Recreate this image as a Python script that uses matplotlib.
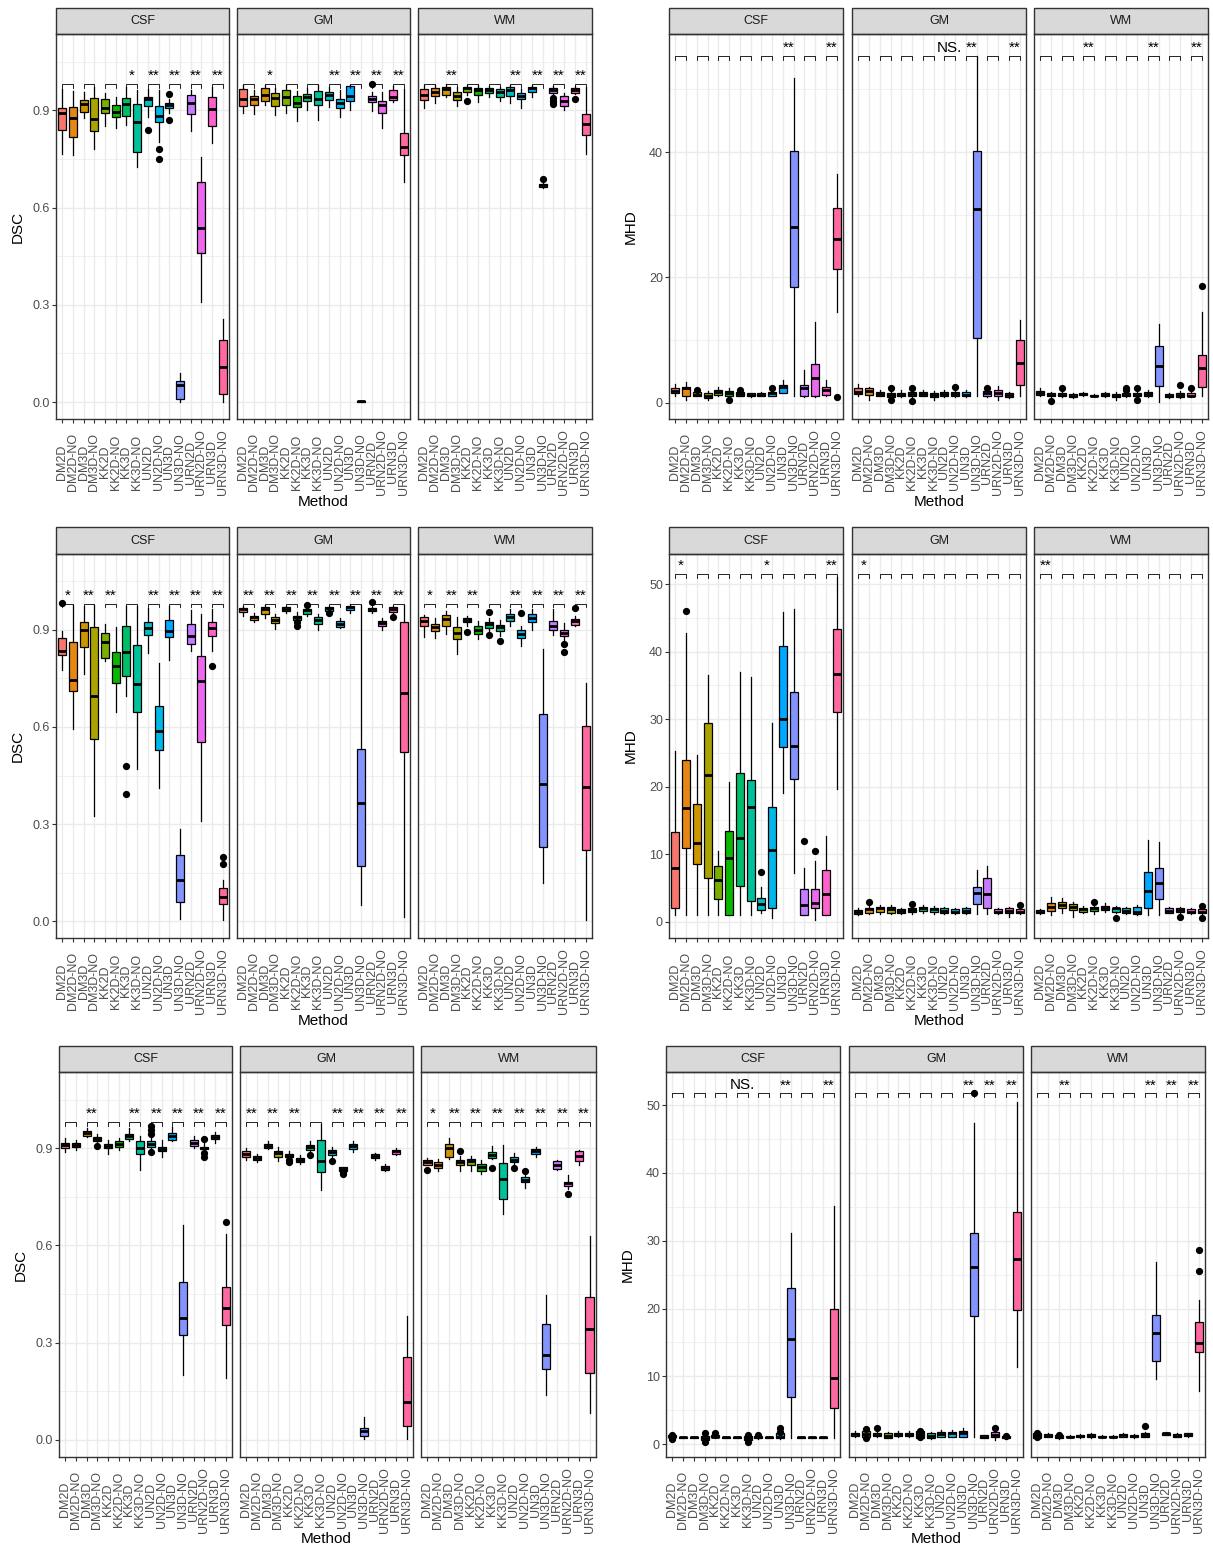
import matplotlib
matplotlib.use('Agg')
import matplotlib.pyplot as plt
from matplotlib.patches import Rectangle

plt.rcParams['font.family'] = ['Liberation Sans', 'DejaVu Sans']

methods = ['DM2D', 'DM2D-NO', 'DM3D', 'DM3D-NO', 'KK2D', 'KK2D-NO', 'KK3D', 'KK3D-NO',
           'UN2D', 'UN2D-NO', 'UN3D', 'UN3D-NO', 'URN2D', 'URN2D-NO', 'URN3D', 'URN3D-NO']
tissues = ['CSF', 'GM', 'WM']

# box stats per method: (lower whisker, q1, median, q3, upper whisker)
# ---- row 1, DSC
dsc1_csf = [(0.766, 0.838, 0.890, 0.908, 0.964), (0.763, 0.817, 0.877, 0.910, 0.960),
            (0.877, 0.894, 0.918, 0.931, 0.955), (0.779, 0.835, 0.874, 0.939, 0.970),
            (0.851, 0.890, 0.908, 0.935, 0.953), (0.846, 0.879, 0.895, 0.916, 0.940),
            (0.854, 0.882, 0.918, 0.939, 0.970), (0.725, 0.772, 0.863, 0.920, 0.962),
            (0.880, 0.912, 0.936, 0.941, 0.964), (0.802, 0.864, 0.882, 0.914, 0.962),
            (0.890, 0.907, 0.915, 0.921, 0.936), (0.001, 0.010, 0.052, 0.065, 0.090),
            (0.836, 0.888, 0.923, 0.946, 0.962), (0.309, 0.461, 0.538, 0.679, 0.756),
            (0.800, 0.851, 0.905, 0.941, 0.970), (0.001, 0.025, 0.109, 0.193, 0.255)]
dsc1_csf_out = {'UN2D': [0.84], 'UN2D-NO': [0.78, 0.75], 'UN3D': [0.951, 0.869]}
dsc1_csf_sig = ['', '', '', '*', '**', '**', '**', '**']

dsc1_gm = [(0.892, 0.913, 0.934, 0.964, 0.977), (0.888, 0.917, 0.933, 0.945, 0.962),
           (0.917, 0.929, 0.948, 0.967, 0.977), (0.885, 0.913, 0.938, 0.953, 0.967),
           (0.890, 0.917, 0.941, 0.962, 0.977), (0.866, 0.910, 0.921, 0.945, 0.960),
           (0.900, 0.927, 0.941, 0.951, 0.967), (0.871, 0.917, 0.936, 0.959, 0.977),
           (0.910, 0.931, 0.946, 0.955, 0.970), (0.880, 0.908, 0.921, 0.934, 0.962),
           (0.902, 0.929, 0.943, 0.974, 0.977), (0.000, 0.001, 0.002, 0.003, 0.004),
           (0.896, 0.925, 0.935, 0.945, 0.955), (0.846, 0.890, 0.917, 0.929, 0.955),
           (0.925, 0.931, 0.941, 0.962, 0.976), (0.679, 0.761, 0.787, 0.830, 0.965)]
dsc1_gm_out = {'URN2D': [0.98]}
dsc1_gm_sig = ['', '*', '', '', '**', '**', '**', '**']

dsc1_wm = [(0.908, 0.931, 0.948, 0.964, 0.977), (0.921, 0.944, 0.955, 0.967, 0.977),
           (0.941, 0.948, 0.964, 0.972, 0.980), (0.912, 0.931, 0.944, 0.957, 0.970),
           (0.946, 0.957, 0.968, 0.972, 0.977), (0.926, 0.948, 0.963, 0.969, 0.977),
           (0.941, 0.952, 0.962, 0.969, 0.976), (0.929, 0.941, 0.955, 0.964, 0.972),
           (0.923, 0.943, 0.962, 0.972, 0.977), (0.908, 0.933, 0.945, 0.953, 0.964),
           (0.941, 0.957, 0.967, 0.972, 0.977), (0.659, 0.662, 0.668, 0.674, 0.676),
           (0.949, 0.953, 0.962, 0.968, 0.974), (0.900, 0.914, 0.929, 0.943, 0.953),
           (0.949, 0.953, 0.962, 0.967, 0.974), (0.764, 0.823, 0.859, 0.887, 0.970)]
dsc1_wm_out = {'KK2D': [0.929], 'UN3D-NO': [0.689], 'URN2D': [0.939, 0.929, 0.918], 'URN3D': [0.935]}
dsc1_wm_sig = ['', '**', '', '', '**', '**', '**', '**']

# ---- row 1, MHD
mhd1_csf = [(1.0, 1.5, 1.9, 2.3, 3.0), (0.4, 1.0, 2.3, 2.55, 3.35), (1.0, 1.1, 1.3, 1.7, 1.9),
            (0.5, 0.7, 1.05, 1.6, 1.9), (1.0, 1.2, 1.65, 2.0, 2.55), (1.0, 1.05, 1.6, 1.9, 2.3),
            (1.0, 1.05, 1.4, 1.75, 2.1), (0.85, 1.0, 1.2, 1.5, 1.6), (1.0, 1.0, 1.3, 1.5, 1.75),
            (1.0, 1.05, 1.5, 1.75, 2.1), (1.5, 1.6, 2.45, 2.8, 3.6), (1.0, 18.4, 28.0, 40.2, 51.8),
            (0.9, 1.0, 2.3, 2.8, 5.2), (0.9, 1.0, 3.9, 6.2, 12.9), (1.0, 1.2, 2.1, 2.55, 3.6),
            (14.5, 21.4, 26.1, 31.1, 36.5)]
mhd1_csf_out = {'DM3D': [2.1], 'KK2D-NO': [0.43], 'KK3D': [2.1], 'UN2D-NO': [2.4], 'URN3D-NO': [0.85]}
mhd1_csf_sig = ['', '', '', '', '', '**', '', '**']

mhd1_gm = [(1.05, 1.4, 1.75, 2.3, 3.0), (0.4, 1.2, 1.9, 2.3, 2.55), (1.0, 1.05, 1.4, 1.75, 2.0),
           (0.7, 0.85, 1.2, 1.5, 1.75), (0.9, 1.0, 1.2, 1.6, 2.0), (0.9, 1.0, 1.4, 1.75, 2.0),
           (1.0, 1.05, 1.4, 1.75, 2.0), (0.4, 0.85, 1.2, 1.5, 1.9), (0.9, 1.0, 1.4, 1.75, 2.0),
           (0.9, 1.0, 1.4, 1.75, 2.0), (0.9, 1.0, 1.2, 1.75, 2.1), (1.0, 10.3, 30.9, 40.2, 55.3),
           (0.9, 1.05, 1.5, 1.9, 2.1), (0.4, 1.05, 1.5, 2.0, 2.65), (0.7, 0.85, 1.2, 1.6, 1.75),
           (1.0, 2.8, 6.4, 10.0, 13.2)]
mhd1_gm_out = {'DM3D-NO': [2.3, 0.45], 'KK2D-NO': [2.4, 0.27], 'UN2D-NO': [2.55], 'URN2D': [2.4]}
mhd1_gm_sig = ['', '', '', '', 'NS.', '**', '', '**']

mhd1_wm = [(1.0, 1.2, 1.6, 1.9, 2.3), (0.7, 1.0, 1.2, 1.5, 1.75), (0.9, 1.0, 1.2, 1.6, 1.9),
           (0.7, 0.85, 1.1, 1.4, 1.6), (1.1, 1.2, 1.45, 1.6, 1.75), (0.85, 1.0, 1.1, 1.2, 1.4),
           (0.9, 1.05, 1.3, 1.5, 1.75), (0.5, 0.85, 1.1, 1.4, 1.75), (0.85, 1.0, 1.2, 1.6, 1.9),
           (0.7, 1.0, 1.2, 1.5, 1.75), (0.9, 1.05, 1.4, 1.75, 2.1), (0.15, 2.65, 5.85, 9.0, 12.55),
           (0.7, 0.85, 1.1, 1.4, 1.6), (0.7, 0.85, 1.2, 1.5, 1.9), (0.85, 1.0, 1.1, 1.5, 1.75),
           (1.0, 2.45, 5.6, 7.6, 14.4)]
mhd1_wm_out = {'DM2D-NO': [0.27], 'DM3D': [2.3], 'UN2D': [2.3, 2.0], 'UN2D-NO': [2.3, 0.43],
               'URN2D-NO': [2.8], 'URN3D': [2.3], 'URN3D-NO': [18.6]}
mhd1_wm_sig = ['', '', '**', '', '', '**', '', '**']

# ---- row 2, DSC
dsc2_csf = [(0.774, 0.821, 0.835, 0.874, 0.895), (0.594, 0.712, 0.746, 0.862, 0.975),
            (0.764, 0.847, 0.900, 0.924, 0.972), (0.326, 0.564, 0.694, 0.907, 0.975),
            (0.802, 0.813, 0.861, 0.890, 0.918), (0.645, 0.735, 0.787, 0.832, 0.908),
            (0.694, 0.758, 0.832, 0.910, 0.972), (0.470, 0.646, 0.733, 0.852, 0.974),
            (0.828, 0.882, 0.905, 0.923, 0.967), (0.413, 0.528, 0.586, 0.663, 0.797),
            (0.807, 0.876, 0.897, 0.931, 0.972), (0.007, 0.060, 0.129, 0.206, 0.285),
            (0.833, 0.857, 0.879, 0.918, 0.960), (0.309, 0.554, 0.741, 0.818, 0.949),
            (0.835, 0.879, 0.905, 0.923, 0.964), (0.005, 0.055, 0.074, 0.104, 0.129)]
dsc2_csf_out = {'DM2D': [0.982], 'KK3D': [0.48, 0.394], 'URN3D': [0.787], 'URN3D-NO': [0.2, 0.177]}
dsc2_csf_sig = ['*', '**', '**', '', '**', '**', '**', '**']

dsc2_gm = [(0.941, 0.954, 0.962, 0.967, 0.974), (0.923, 0.929, 0.938, 0.943, 0.951),
           (0.936, 0.949, 0.962, 0.970, 0.977), (0.902, 0.919, 0.931, 0.938, 0.948),
           (0.951, 0.957, 0.964, 0.969, 0.974), (0.926, 0.931, 0.938, 0.943, 0.954),
           (0.941, 0.949, 0.959, 0.964, 0.970), (0.898, 0.918, 0.929, 0.939, 0.949),
           (0.955, 0.958, 0.966, 0.970, 0.974), (0.904, 0.908, 0.918, 0.925, 0.936),
           (0.951, 0.960, 0.969, 0.974, 0.980), (0.051, 0.170, 0.365, 0.533, 0.975),
           (0.950, 0.957, 0.962, 0.966, 0.970), (0.900, 0.912, 0.920, 0.928, 0.935),
           (0.950, 0.954, 0.964, 0.969, 0.974), (0.015, 0.523, 0.705, 0.924, 0.975)]
dsc2_gm_out = {'KK2D-NO': [0.923, 0.91], 'KK3D': [0.977], 'UN2D': [0.951], 'URN2D': [0.984], 'URN3D': [0.939]}
dsc2_gm_sig = ['**', '**', '**', '**', '**', '**', '**', '**']

dsc2_wm = [(0.877, 0.910, 0.926, 0.938, 0.946), (0.874, 0.895, 0.907, 0.918, 0.936),
           (0.885, 0.912, 0.933, 0.946, 0.957), (0.826, 0.871, 0.888, 0.908, 0.938),
           (0.912, 0.923, 0.931, 0.936, 0.943), (0.871, 0.885, 0.900, 0.910, 0.926),
           (0.897, 0.905, 0.918, 0.924, 0.936), (0.879, 0.895, 0.908, 0.915, 0.931),
           (0.910, 0.926, 0.938, 0.948, 0.962), (0.849, 0.874, 0.887, 0.900, 0.912),
           (0.900, 0.923, 0.936, 0.949, 0.962), (0.120, 0.229, 0.424, 0.640, 0.840),
           (0.882, 0.900, 0.912, 0.926, 0.964), (0.869, 0.879, 0.890, 0.900, 0.921),
           (0.910, 0.915, 0.926, 0.933, 0.941), (0.005, 0.219, 0.415, 0.604, 0.735)]
dsc2_wm_out = {'KK2D': [0.894], 'KK3D': [0.954, 0.882], 'KK3D-NO': [0.864], 'UN2D-NO': [0.951],
               'URN2D-NO': [0.854, 0.831], 'URN3D': [0.967]}
dsc2_wm_sig = ['*', '**', '**', '', '**', '**', '**', '**']

# ---- row 2, MHD
mhd2_csf = [(1.0, 2.0, 7.9, 13.3, 25.3), (1.0, 10.9, 16.9, 24.0, 42.7), (1.0, 8.6, 11.6, 17.5, 24.7),
            (1.0, 6.5, 21.7, 29.5, 36.6), (1.0, 3.3, 6.2, 8.3, 10.5), (1.0, 1.0, 9.4, 13.4, 20.75),
            (1.0, 5.3, 12.35, 22.0, 37.05), (1.0, 3.06, 17.05, 21.0, 36.2), (1.24, 1.73, 2.57, 3.56, 5.2),
            (0.5, 2.0, 10.6, 16.95, 29.5), (19.1, 25.9, 30.0, 40.8, 45.9), (7.2, 21.15, 26.0, 34.1, 46.3),
            (1.0, 1.0, 2.5, 4.8, 7.9), (0.25, 2.1, 2.7, 4.8, 9.0), (1.0, 1.0, 4.05, 7.6, 12.75),
            (19.7, 31.1, 36.7, 43.3, 51.0)]
mhd2_csf_out = {'DM2D-NO': [46.0], 'UN2D': [7.4], 'URN2D': [12.0], 'URN2D-NO': [10.5]}
mhd2_csf_sig = ['*', '', '', '', '*', '', '', '**']

mhd2_gm = [(1.0, 1.14, 1.38, 1.73, 2.0), (1.1, 1.33, 1.83, 2.07, 2.47), (1.2, 1.48, 2.0, 2.2, 2.47),
           (1.1, 1.33, 1.88, 2.2, 2.47), (1.2, 1.33, 1.6, 1.88, 2.1), (1.2, 1.48, 1.73, 2.07, 2.3),
           (1.3, 1.58, 2.0, 2.2, 2.47), (1.2, 1.48, 1.83, 2.1, 2.3), (1.1, 1.33, 1.6, 2.0, 2.2),
           (1.1, 1.24, 1.48, 1.83, 2.0), (1.1, 1.24, 1.6, 2.0, 2.2), (1.1, 2.6, 4.3, 5.2, 7.6),
           (1.1, 2.0, 4.1, 6.4, 8.3), (1.1, 1.24, 1.48, 1.83, 2.0), (0.64, 1.24, 1.6, 2.0, 2.2),
           (1.1, 1.24, 1.48, 1.83, 2.0)]
mhd2_gm_out = {'DM2D-NO': [2.96], 'KK2D-NO': [2.6], 'URN3D-NO': [2.47]}
mhd2_gm_sig = ['*', '', '', '', '', '', '', '']

mhd2_wm = [(1.1, 1.24, 1.48, 1.73, 1.83), (1.0, 1.58, 2.2, 2.7, 3.7), (1.24, 2.0, 2.47, 2.9, 3.46),
           (0.74, 1.73, 2.2, 2.57, 2.96), (1.24, 1.38, 1.83, 2.1, 2.3), (1.1, 1.63, 1.98, 2.2, 2.6),
           (1.48, 1.73, 2.07, 2.3, 2.7), (1.24, 1.48, 1.98, 2.1, 2.3), (1.14, 1.33, 1.63, 2.0, 2.2),
           (1.0, 1.14, 1.48, 2.2, 2.47), (1.0, 2.1, 4.6, 7.4, 12.1), (1.0, 3.3, 5.8, 7.9, 11.75),
           (1.24, 1.33, 1.63, 2.0, 2.2), (1.24, 1.48, 1.73, 2.0, 2.2), (1.14, 1.24, 1.48, 1.83, 2.07),
           (1.14, 1.24, 1.48, 1.83, 1.9)]
mhd2_wm_out = {'KK2D-NO': [2.96], 'KK3D-NO': [0.5], 'URN2D-NO': [0.64], 'URN3D-NO': [2.3, 0.5]}
mhd2_wm_sig = ['**', '', '', '', '', '', '', '']

# ---- row 3, DSC
dsc3_csf = [(0.887, 0.900, 0.910, 0.917, 0.931), (0.895, 0.903, 0.910, 0.917, 0.926),
            (0.934, 0.939, 0.946, 0.954, 0.962), (0.915, 0.921, 0.929, 0.934, 0.944),
            (0.881, 0.900, 0.907, 0.913, 0.926), (0.895, 0.903, 0.913, 0.921, 0.931),
            (0.921, 0.928, 0.936, 0.943, 0.962), (0.833, 0.883, 0.900, 0.921, 0.936),
            (0.895, 0.905, 0.913, 0.921, 0.934), (0.874, 0.890, 0.897, 0.905, 0.926),
            (0.921, 0.926, 0.936, 0.948, 0.965), (0.200, 0.322, 0.377, 0.487, 0.663),
            (0.900, 0.907, 0.917, 0.924, 0.936), (0.890, 0.897, 0.900, 0.905, 0.915),
            (0.915, 0.928, 0.934, 0.941, 0.951), (0.190, 0.353, 0.408, 0.473, 0.636)]
dsc3_csf_out = {'DM3D-NO': [0.907], 'UN2D': [0.969, 0.957, 0.944, 0.887],
                'URN2D-NO': [0.928, 0.885, 0.872], 'URN3D-NO': [0.671]}
dsc3_csf_sig = ['', '**', '', '**', '**', '**', '**', '**']

dsc3_gm = [(0.864, 0.872, 0.881, 0.890, 0.900), (0.856, 0.862, 0.869, 0.876, 0.883),
           (0.897, 0.900, 0.907, 0.913, 0.921), (0.861, 0.874, 0.885, 0.892, 0.905),
           (0.866, 0.872, 0.877, 0.883, 0.890), (0.852, 0.856, 0.864, 0.869, 0.879),
           (0.890, 0.895, 0.905, 0.910, 0.921), (0.771, 0.825, 0.859, 0.926, 0.975),
           (0.870, 0.879, 0.887, 0.895, 0.905), (0.828, 0.831, 0.837, 0.841, 0.843),
           (0.887, 0.898, 0.907, 0.913, 0.921), (0.002, 0.012, 0.026, 0.038, 0.069),
           (0.864, 0.869, 0.876, 0.881, 0.886), (0.828, 0.833, 0.840, 0.845, 0.851),
           (0.878, 0.883, 0.890, 0.895, 0.900), (0.003, 0.044, 0.118, 0.257, 0.383)]
dsc3_gm_out = {'KK2D': [0.864, 0.856], 'KK3D': [0.879], 'UN2D': [0.861], 'UN2D-NO': [0.825, 0.821]}
dsc3_gm_sig = ['**', '**', '**', '', '**', '**', '**', '**']

dsc3_wm = [(0.849, 0.849, 0.856, 0.862, 0.869), (0.828, 0.838, 0.849, 0.856, 0.866),
           (0.866, 0.874, 0.900, 0.913, 0.931), (0.831, 0.847, 0.856, 0.864, 0.875),
           (0.828, 0.849, 0.859, 0.866, 0.876), (0.821, 0.830, 0.843, 0.852, 0.862),
           (0.868, 0.871, 0.879, 0.887, 0.907), (0.697, 0.743, 0.804, 0.854, 0.910),
           (0.850, 0.856, 0.864, 0.872, 0.885), (0.777, 0.794, 0.802, 0.810, 0.818),
           (0.874, 0.883, 0.890, 0.897, 0.905), (0.139, 0.219, 0.262, 0.358, 0.447),
           (0.832, 0.835, 0.849, 0.859, 0.864), (0.775, 0.784, 0.792, 0.797, 0.816),
           (0.849, 0.859, 0.876, 0.890, 0.895), (0.082, 0.206, 0.341, 0.440, 0.630)]
dsc3_wm_out = {'DM2D': [0.833], 'DM3D-NO': [0.89], 'KK3D': [0.838], 'UN2D': [0.838],
               'UN2D-NO': [0.828], 'URN2D-NO': [0.759]}
dsc3_wm_sig = ['*', '**', '**', '**', '**', '**', '**', '**']

# ---- row 3, MHD
mhd3_csf = [(0.8, 1.0, 1.1, 1.3, 1.5), (0.9, 0.95, 1.0, 1.05, 1.1), (0.9, 0.95, 1.0, 1.05, 1.1),
            (0.4, 0.64, 0.9, 1.2, 1.6), (0.88, 1.0, 1.1, 1.38, 1.7), (0.9, 0.95, 1.0, 1.05, 1.1),
            (0.9, 0.95, 1.0, 1.05, 1.1), (0.4, 0.64, 0.9, 1.2, 1.5), (0.8, 0.9, 1.1, 1.28, 1.5),
            (0.9, 0.95, 1.0, 1.05, 1.1), (0.8, 0.9, 1.1, 1.6, 2.0), (0.88, 6.9, 15.5, 23.0, 31.2),
            (0.9, 0.95, 1.0, 1.05, 1.1), (0.9, 0.95, 1.0, 1.05, 1.1), (0.9, 0.95, 1.0, 1.05, 1.1),
            (0.88, 5.3, 9.7, 19.9, 35.1)]
mhd3_csf_out = {'DM2D': [1.4, 0.8], 'DM3D-NO': [1.6, 0.4], 'KK2D': [1.6], 'KK3D-NO': [1.4, 0.4],
                'UN2D': [1.4], 'UN3D': [2.45, 1.87]}
mhd3_csf_sig = ['', '', '', 'NS.', '', '**', '', '**']

mhd3_gm = [(1.1, 1.23, 1.47, 1.72, 1.9), (0.9, 1.0, 1.5, 2.0, 2.3), (1.05, 1.15, 1.35, 1.6, 1.8),
           (0.9, 0.98, 1.28, 1.62, 1.8), (1.1, 1.23, 1.47, 1.72, 1.9), (1.1, 1.23, 1.47, 1.72, 1.9),
           (0.8, 0.9, 1.5, 1.9, 2.1), (0.8, 0.9, 1.2, 1.6, 1.75), (1.0, 1.13, 1.55, 1.87, 2.1),
           (1.0, 1.13, 1.6, 1.87, 2.1), (1.0, 1.13, 1.62, 2.0, 2.36), (1.13, 18.9, 26.1, 31.2, 47.3),
           (0.9, 0.98, 1.13, 1.38, 1.4), (0.64, 1.13, 1.4, 1.8, 2.0), (0.8, 0.9, 1.13, 1.28, 1.4),
           (11.4, 19.8, 27.3, 34.2, 50.5)]
mhd3_gm_out = {'DM2D-NO': [2.2, 0.9], 'DM3D': [2.45], 'KK3D': [2.0, 1.0], 'UN3D-NO': [51.7],
               'URN2D-NO': [2.36], 'URN3D': [1.2]}
mhd3_gm_sig = ['', '', '', '', '', '**', '**', '**']

mhd3_wm = [(0.8, 0.88, 1.28, 1.62, 1.8), (1.0, 1.03, 1.25, 1.47, 1.6), (0.8, 0.88, 1.1, 1.38, 1.6),
           (0.9, 1.0, 1.1, 1.2, 1.3), (0.95, 1.05, 1.2, 1.38, 1.45), (0.95, 1.05, 1.2, 1.47, 1.6),
           (0.9, 1.0, 1.1, 1.2, 1.35), (0.9, 1.0, 1.1, 1.2, 1.35), (1.1, 1.13, 1.38, 1.53, 1.7),
           (0.95, 1.0, 1.2, 1.38, 1.5), (1.0, 1.03, 1.38, 1.72, 1.87), (9.6, 12.28, 16.36, 19.06, 26.8),
           (1.3, 1.38, 1.62, 1.72, 1.87), (1.0, 1.13, 1.28, 1.47, 1.6), (1.13, 1.23, 1.38, 1.62, 1.72),
           (7.86, 13.56, 14.9, 18.07, 21.2)]
mhd3_wm_out = {'DM2D': [1.7, 1.0], 'DM3D': [1.4], 'UN3D': [2.75], 'URN3D-NO': [25.6, 28.7]}
mhd3_wm_sig = ['', '**', '', '', '', '**', '**', '**']

# ggplot default hue palette for 16 levels
hue16 = ['#F8766D', '#E68613', '#CD9600', '#ABA300', '#7CAE00', '#0CB702', '#00BE67', '#00C19A',
         '#00BFC4', '#00B8E7', '#00A9FF', '#8494FF', '#C77CFF', '#ED68ED', '#FF61CC', '#FF68A1']

W, H = 1213, 1547
fig = plt.figure(figsize=(W / 100, H / 100), dpi=100)

row_y = [(8.3, 34.3, 419.0), (527.3, 553.7, 938.3), (1045.7, 1072.3, 1456.7)]
left_a = [(56, 229), (237, 410), (418, 592)]
left_b = [(59, 232), (240, 413), (421, 596)]
right_a = [(669, 843), (852, 1026), (1034, 1208)]
right_b = [(666, 840), (849, 1023), (1031, 1205)]

dsc_ticks = dict(ylim=(-0.052, 1.134), major=[0, 0.3, 0.6, 0.9], labels=['0.0', '0.3', '0.6', '0.9'],
                 minor=[0.15, 0.45, 0.75, 1.05], by=0.98)
mhd_tk = [0, 10, 20, 30, 40, 50]
panels = [
    dict(row=0, cols=left_a, ylabel='DSC', **dsc_ticks,
         data=[(dsc1_csf, dsc1_csf_out, dsc1_csf_sig), (dsc1_gm, dsc1_gm_out, dsc1_gm_sig),
               (dsc1_wm, dsc1_wm_out, dsc1_wm_sig)]),
    dict(row=0, cols=right_a, ylabel='MHD', ylim=(-2.6, 58.78), major=[0, 20, 40], labels=['0', '20', '40'],
         minor=[10, 30, 50], by=55.3,
         data=[(mhd1_csf, mhd1_csf_out, mhd1_csf_sig), (mhd1_gm, mhd1_gm_out, mhd1_gm_sig),
               (mhd1_wm, mhd1_wm_out, mhd1_wm_sig)]),
    dict(row=1, cols=left_a, ylabel='DSC', **dsc_ticks,
         data=[(dsc2_csf, dsc2_csf_out, dsc2_csf_sig), (dsc2_gm, dsc2_gm_out, dsc2_gm_sig),
               (dsc2_wm, dsc2_wm_out, dsc2_wm_sig)]),
    dict(row=1, cols=right_a, ylabel='MHD', ylim=(-2.46, 54.52), major=mhd_tk, labels=[str(t) for t in mhd_tk],
         minor=[5, 15, 25, 35, 45], by=51.5,
         data=[(mhd2_csf, mhd2_csf_out, mhd2_csf_sig), (mhd2_gm, mhd2_gm_out, mhd2_gm_sig),
               (mhd2_wm, mhd2_wm_out, mhd2_wm_sig)]),
    dict(row=2, cols=left_b, ylabel='DSC', **dsc_ticks,
         data=[(dsc3_csf, dsc3_csf_out, dsc3_csf_sig), (dsc3_gm, dsc3_gm_out, dsc3_gm_sig),
               (dsc3_wm, dsc3_wm_out, dsc3_wm_sig)]),
    dict(row=2, cols=right_b, ylabel='MHD', ylim=(-1.83, 54.82), major=mhd_tk, labels=[str(t) for t in mhd_tk],
         minor=[5, 15, 25, 35, 45], by=51.7,
         data=[(mhd3_csf, mhd3_csf_out, mhd3_csf_sig), (mhd3_gm, mhd3_gm_out, mhd3_gm_sig),
               (mhd3_wm, mhd3_wm_out, mhd3_wm_sig)]),
]

pos = list(range(1, 17))
for p in panels:
    s_top, p_top, p_bot = row_y[p['row']]
    ax_h = p_bot - p_top
    ppu = ax_h / (p['ylim'][1] - p['ylim'][0])  # pixels per data unit
    tip = 3.5 / ppu
    off = 4.0 / ppu
    for k, ((x0, x1), tissue, (stats, outl, sig)) in enumerate(zip(p['cols'], tissues, p['data'])):
        ax = fig.add_axes([x0 / W, 1 - p_bot / H, (x1 - x0) / W, ax_h / H])
        ax.set_xlim(0.4, 16.6)
        ax.set_ylim(*p['ylim'])
        ax.set_axisbelow(True)

        bst = [dict(whislo=lo, q1=q1, med=md, q3=q3, whishi=hi, fliers=outl.get(m, []))
               for m, (lo, q1, md, q3, hi) in zip(methods, stats)]
        res = ax.bxp(bst, positions=pos, widths=0.75, patch_artist=True, showcaps=False,
                     manage_ticks=False,
                     boxprops=dict(edgecolor='black', linewidth=0.9),
                     whiskerprops=dict(color='black', linewidth=0.9),
                     medianprops=dict(color='black', linewidth=2.0, solid_capstyle='butt'),
                     flierprops=dict(marker='o', markerfacecolor='black', markeredgecolor='black',
                                     markersize=4.2, linestyle='none'))
        for patch, c in zip(res['boxes'], hue16):
            patch.set_facecolor(c)

        # significance brackets (pairs of neighbouring methods)
        y = p['by']
        for j, lab in enumerate(sig):
            a, b = pos[2 * j], pos[2 * j + 1]
            ax.plot([a, a, b, b], [y - tip, y, y, y - tip], color='black', lw=0.6, zorder=4)
            if lab:
                ax.text((a + b) / 2, y + off, lab, ha='center', va='baseline', fontsize=11,
                        color='black', zorder=5)

        ax.set_xticks(pos, methods, rotation=90, fontsize=9, color='#4D4D4D', va='center', ha='center')
        ax.set_yticks(p['major'], p['labels'])
        ax.set_yticks(p['minor'], minor=True)
        ax.grid(which='major', color='#EBEBEB', linewidth=1.0)
        ax.grid(which='minor', axis='y', color='#EBEBEB', linewidth=0.5)
        ax.tick_params(axis='x', length=2.75, width=0.8, color='#333333', pad=28.2)
        ax.tick_params(axis='y', which='minor', left=False)
        if k == 0:
            ax.tick_params(axis='y', which='major', length=2.75, width=0.8, color='#333333', pad=1.6,
                           labelsize=9, labelcolor='#4D4D4D')
        else:
            ax.tick_params(axis='y', which='major', left=False, labelleft=False)
        for sp in ax.spines.values():
            sp.set_color('#333333')
            sp.set_linewidth(1.0)

        # facet strip
        sh = (p_top - s_top) / ax_h
        ax.add_patch(Rectangle((0, 1), 1, sh, transform=ax.transAxes, clip_on=False,
                               facecolor='#D9D9D9', edgecolor='#333333', linewidth=1.0))
        ax.text(0.5, 1 + sh / 2, tissue, transform=ax.transAxes, ha='center', va='center',
                fontsize=9, color='#1A1A1A')

        if k == 1:
            fig.text((x0 + x1) / 2 / W, 1 - (p_bot + 82.5) / H, 'Method', ha='center', va='center',
                     fontsize=11)
    lx = p['cols'][0][0] - 38
    fig.text(lx / W, 1 - (p_top + p_bot) / 2 / H, p['ylabel'], rotation=90, ha='center', va='center',
             fontsize=11)

fig.savefig('out.png', dpi=100, facecolor='white')
